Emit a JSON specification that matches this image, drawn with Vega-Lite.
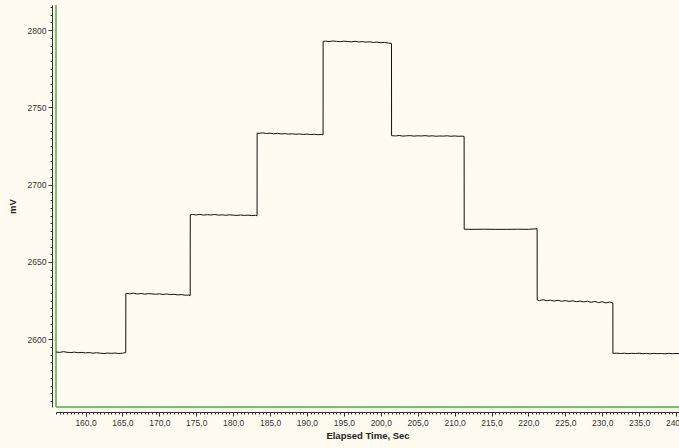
{
  "$schema": "https://vega.github.io/schema/vega-lite/v6.json",
  "autosize": "none",
  "width": 623,
  "height": 402,
  "padding": {"left": 56, "top": 5, "right": 0, "bottom": 41},
  "background": "#FFFBF0",
  "config": {
    "view": {"fill": "#FFFBF0", "stroke": null},
    "axis": {
      "labelFont": "Liberation Sans",
      "labelFontSize": 8.5,
      "labelColor": "#333333",
      "titleFont": "Liberation Sans",
      "titleFontSize": 9.5,
      "titleFontWeight": "bold",
      "titleColor": "#222222",
      "domainColor": "#333333",
      "tickColor": "#333333",
      "grid": false,
      "labelOverlap": false,
      "labelFlush": false,
      "labelBound": false
    }
  },
  "data": {
    "values": [
      {"t": 156.0, "v": 2591.8}, {"t": 156.5, "v": 2591.5}, {"t": 157.0, "v": 2592.0}, {"t": 157.5, "v": 2591.6},
      {"t": 158.0, "v": 2591.4}, {"t": 158.5, "v": 2591.7}, {"t": 159.0, "v": 2591.3}, {"t": 159.5, "v": 2591.5},
      {"t": 160.0, "v": 2591.2}, {"t": 160.5, "v": 2591.4}, {"t": 161.0, "v": 2591.0}, {"t": 161.5, "v": 2591.3},
      {"t": 162.0, "v": 2591.0}, {"t": 162.5, "v": 2590.8}, {"t": 163.0, "v": 2591.1}, {"t": 163.5, "v": 2590.9},
      {"t": 164.0, "v": 2591.1}, {"t": 164.5, "v": 2590.8}, {"t": 165.0, "v": 2591.0}, {"t": 165.45, "v": 2591.4},
      {"t": 165.46, "v": 2629.6}, {"t": 165.5, "v": 2629.7}, {"t": 166.0, "v": 2629.4}, {"t": 166.5, "v": 2629.8},
      {"t": 167.0, "v": 2629.3}, {"t": 167.5, "v": 2629.6}, {"t": 168.0, "v": 2629.2}, {"t": 168.5, "v": 2629.5},
      {"t": 169.0, "v": 2629.4}, {"t": 169.5, "v": 2629.1}, {"t": 170.0, "v": 2629.4}, {"t": 170.5, "v": 2629.0},
      {"t": 171.0, "v": 2629.3}, {"t": 171.5, "v": 2628.9}, {"t": 172.0, "v": 2629.1}, {"t": 172.5, "v": 2628.7},
      {"t": 173.0, "v": 2628.9}, {"t": 173.5, "v": 2628.5}, {"t": 174.0, "v": 2628.6}, {"t": 174.18, "v": 2628.2},
      {"t": 174.19, "v": 2680.5}, {"t": 174.5, "v": 2680.7}, {"t": 175.0, "v": 2680.4}, {"t": 175.5, "v": 2680.8},
      {"t": 176.0, "v": 2680.3}, {"t": 176.5, "v": 2680.6}, {"t": 177.0, "v": 2680.4}, {"t": 177.5, "v": 2680.7},
      {"t": 178.0, "v": 2680.3}, {"t": 178.5, "v": 2680.5}, {"t": 179.0, "v": 2680.2}, {"t": 179.5, "v": 2680.5},
      {"t": 180.0, "v": 2680.3}, {"t": 180.5, "v": 2680.1}, {"t": 181.0, "v": 2680.4}, {"t": 181.5, "v": 2680.1},
      {"t": 182.0, "v": 2680.3}, {"t": 182.5, "v": 2680.0}, {"t": 183.0, "v": 2680.2}, {"t": 183.24, "v": 2679.9},
      {"t": 183.25, "v": 2733.4}, {"t": 183.5, "v": 2733.2}, {"t": 184.0, "v": 2733.5}, {"t": 184.5, "v": 2733.1},
      {"t": 185.0, "v": 2733.3}, {"t": 185.5, "v": 2732.9}, {"t": 186.0, "v": 2733.2}, {"t": 186.5, "v": 2732.8},
      {"t": 187.0, "v": 2733.0}, {"t": 187.5, "v": 2732.7}, {"t": 188.0, "v": 2732.9}, {"t": 188.5, "v": 2732.6},
      {"t": 189.0, "v": 2732.8}, {"t": 189.5, "v": 2732.5}, {"t": 190.0, "v": 2732.7}, {"t": 190.5, "v": 2732.4},
      {"t": 191.0, "v": 2732.6}, {"t": 191.5, "v": 2732.3}, {"t": 192.0, "v": 2732.5}, {"t": 192.18, "v": 2732.2},
      {"t": 192.19, "v": 2792.7}, {"t": 192.5, "v": 2792.8}, {"t": 193.0, "v": 2792.6}, {"t": 193.5, "v": 2792.9},
      {"t": 194.0, "v": 2792.7}, {"t": 194.5, "v": 2792.5}, {"t": 195.0, "v": 2792.8}, {"t": 195.5, "v": 2792.6},
      {"t": 196.0, "v": 2792.4}, {"t": 196.5, "v": 2792.7}, {"t": 197.0, "v": 2792.3}, {"t": 197.5, "v": 2792.5},
      {"t": 198.0, "v": 2792.2}, {"t": 198.5, "v": 2792.4}, {"t": 199.0, "v": 2792.0}, {"t": 199.5, "v": 2792.2},
      {"t": 200.0, "v": 2791.8}, {"t": 200.5, "v": 2792.0}, {"t": 201.0, "v": 2791.6}, {"t": 201.45, "v": 2791.4},
      {"t": 201.46, "v": 2731.7}, {"t": 202.0, "v": 2731.5}, {"t": 202.5, "v": 2731.8}, {"t": 203.0, "v": 2731.4},
      {"t": 203.5, "v": 2731.6}, {"t": 204.0, "v": 2731.7}, {"t": 204.5, "v": 2731.4}, {"t": 205.0, "v": 2731.6},
      {"t": 205.5, "v": 2731.5}, {"t": 206.0, "v": 2731.7}, {"t": 206.5, "v": 2731.4}, {"t": 207.0, "v": 2731.6},
      {"t": 207.5, "v": 2731.3}, {"t": 208.0, "v": 2731.5}, {"t": 208.5, "v": 2731.4}, {"t": 209.0, "v": 2731.6},
      {"t": 209.5, "v": 2731.3}, {"t": 210.0, "v": 2731.5}, {"t": 210.5, "v": 2731.3}, {"t": 211.0, "v": 2731.4},
      {"t": 211.29, "v": 2731.2},
      {"t": 211.3, "v": 2671.2}, {"t": 212.5, "v": 2671.1}, {"t": 214.0, "v": 2671.2}, {"t": 215.5, "v": 2671.1},
      {"t": 217.0, "v": 2671.1}, {"t": 218.5, "v": 2671.2}, {"t": 220.0, "v": 2671.1}, {"t": 221.18, "v": 2671.5},
      {"t": 221.19, "v": 2625.4}, {"t": 221.5, "v": 2625.0}, {"t": 222.0, "v": 2625.6}, {"t": 222.5, "v": 2624.9},
      {"t": 223.0, "v": 2625.3}, {"t": 223.5, "v": 2624.7}, {"t": 224.0, "v": 2625.2}, {"t": 224.5, "v": 2624.6},
      {"t": 225.0, "v": 2625.0}, {"t": 225.5, "v": 2624.5}, {"t": 226.0, "v": 2624.9}, {"t": 226.5, "v": 2624.3},
      {"t": 227.0, "v": 2624.7}, {"t": 227.5, "v": 2624.2}, {"t": 228.0, "v": 2624.6}, {"t": 228.5, "v": 2623.9},
      {"t": 229.0, "v": 2624.5}, {"t": 229.5, "v": 2623.7}, {"t": 230.0, "v": 2624.3}, {"t": 230.5, "v": 2623.5},
      {"t": 231.0, "v": 2624.1}, {"t": 231.44, "v": 2623.4},
      {"t": 231.45, "v": 2590.9}, {"t": 232.0, "v": 2591.0}, {"t": 232.5, "v": 2590.8}, {"t": 233.0, "v": 2591.0},
      {"t": 233.5, "v": 2590.7}, {"t": 234.0, "v": 2590.9}, {"t": 234.5, "v": 2590.8}, {"t": 235.0, "v": 2591.0},
      {"t": 235.5, "v": 2590.7}, {"t": 236.0, "v": 2590.9}, {"t": 236.5, "v": 2590.6}, {"t": 237.0, "v": 2590.9},
      {"t": 237.5, "v": 2590.7}, {"t": 238.0, "v": 2590.8}, {"t": 238.5, "v": 2590.6}, {"t": 239.0, "v": 2590.9},
      {"t": 239.5, "v": 2590.7}, {"t": 240.0, "v": 2590.8}, {"t": 240.4, "v": 2590.7}
    ]
  },
  "encoding": {
    "x": {
      "field": "t",
      "type": "quantitative",
      "scale": {"domain": [156, 240.4], "nice": false, "zero": false},
      "axis": {
        "title": "Elapsed Time, Sec",
        "offset": 5,
        "tickCount": 170,
        "tickSize": {"condition": {"test": "datum.value % 5 === 0", "value": 4}, "value": 2},
        "labelExpr": "datum.value % 5 === 0 ? replace(format(datum.value, '.1f'), '.', ',') : ''",
        "labelPadding": 2,
        "titlePadding": 4
      }
    },
    "y": {
      "field": "v",
      "type": "quantitative",
      "scale": {"domain": [2556.2, 2816.2], "nice": false, "zero": false},
      "axis": {
        "title": "mV",
        "offset": 4,
        "tickCount": 52,
        "tickSize": {"condition": {"test": "datum.value % 50 === 0", "value": 4}, "value": 2},
        "labelExpr": "datum.value % 50 === 0 ? format(datum.value, 'd') : ''",
        "labelPadding": 2,
        "titlePadding": 10
      }
    }
  },
  "layer": [
    {"mark": {"type": "rule", "color": "#79C06C", "strokeWidth": 1.5}, "encoding": {"x": {"datum": 156}, "y": null}},
    {"mark": {"type": "rule", "color": "#79C06C", "strokeWidth": 1.5}, "encoding": {"y": {"datum": 2556.2}, "x": null}},
    {"mark": {"type": "line", "color": "#111111", "strokeWidth": 1, "interpolate": "linear"}}
  ]
}
